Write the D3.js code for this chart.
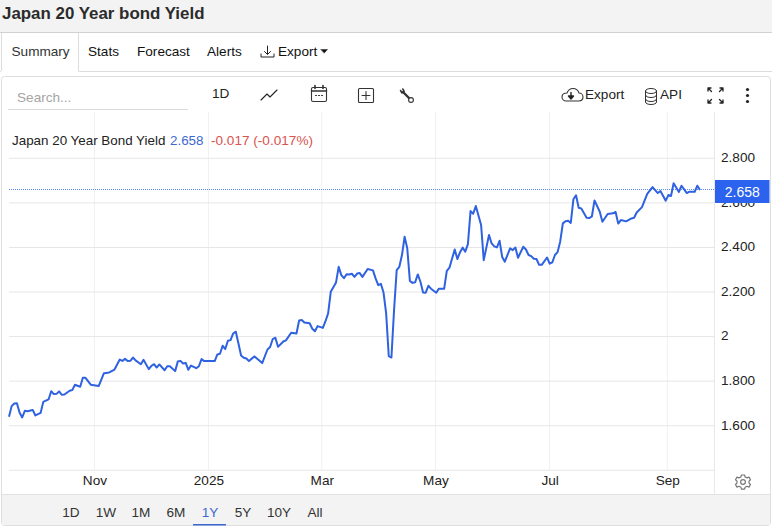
<!DOCTYPE html>
<html><head><meta charset="utf-8">
<style>html,body{margin:0;padding:0;background:#fff}svg{display:block}text{font-family:"Liberation Sans",Arial,sans-serif}</style>
<script src="https://cdn.jsdelivr.net/npm/d3@7/dist/d3.min.js"></script>
</head><body><svg id="c" width="772" height="528"></svg>
<script>
const chartTitle = "Japan 20 Year bond Yield";
const seriesName = "Japan 20 Year Bond Yield";
const lastValue = 2.658;
const changeText = "-0.017 (-0.017%)";
const tabs = ["Summary","Stats","Forecast","Alerts"];
const ranges = ["1D","1W","1M","6M","1Y","5Y","10Y","All"];
const yTicks = [2.8,2.6,2.4,2.2,2,1.8,1.6];
const xTickLabels = ["Nov","2025","Mar","May","Jul","Sep"];
const xTickSessions = [32.4,75.6,118.6,161.7,205,249.6];
const sessions = [0,1,2,3,4,5,6,7,9,10,12,13,15,16,17,18,19,20,21,23,24,25,27,28,29,31,34,36,38,40,
42,43,44,45,46,47,48,50,51,53,54,55,56,57,59,60,61,63,64,65,66,67,68,69,71,72,
73,74,78,79,80,81,82,83,84,85,86,87,88,89,90,91,93,94,96,98,99,100,101,102,104,105,107,109,110,111,112,114,
115,116,117,119,120,121,122,124,125,126,127,128,129,130,131,132,133,134,136,138,139,140,141,142,143,144,145,146,147,148,149,150,151,152,153,154,155,156,157,158,159,160,162,163,165,166,167,169,170,171,
172,173,174,175,176,177,179,180,182,183,184,185,186,187,188,190,191,192,193,195,196,197,198,199,200,201,202,204,205,206,207,208,209,210,211,212,213,214,215,216,217,219,220,221,222,224,225,227,229,230,231,232,234,236,237,238,240,242,244,246,247,249,250,251,252,254,255,257,258,260,261,262];
const yields = [1.640,1.688,1.700,1.701,1.659,1.637,1.667,1.665,1.671,1.646,1.658,1.707,1.718,1.755,1.742,1.743,1.754,1.739,1.740,1.757,1.760,1.784,1.775,1.815,1.815,1.784,1.778,1.836,1.839,1.852,
1.897,1.891,1.900,1.890,1.891,1.906,1.893,1.876,1.896,1.854,1.869,1.876,1.861,1.875,1.849,1.867,1.867,1.845,1.888,1.891,1.879,1.882,1.851,1.870,1.858,1.867,
1.899,1.890,1.890,1.920,1.923,1.959,1.944,1.981,1.984,2.014,2.022,1.969,1.915,1.905,1.902,1.890,1.911,1.902,1.881,1.942,1.953,1.989,1.995,1.954,1.978,1.983,2.017,2.014,2.072,2.074,2.063,2.060,
2.035,2.024,2.047,2.039,2.069,2.104,2.201,2.243,2.313,2.276,2.262,2.280,2.279,2.282,2.268,2.283,2.285,2.268,2.303,2.297,2.261,2.231,2.237,2.198,2.104,1.912,1.906,2.119,2.298,2.313,2.366,2.448,2.396,2.250,2.241,2.244,2.279,2.246,2.198,2.197,2.228,2.215,2.197,2.215,2.215,2.295,2.309,2.391,2.348,2.378,
2.399,2.381,2.415,2.563,2.551,2.586,2.501,2.343,2.456,2.418,2.405,2.400,2.430,2.357,2.336,2.396,2.388,2.400,2.354,2.403,2.391,2.366,2.361,2.349,2.348,2.322,2.322,2.355,2.327,2.333,2.366,2.379,2.427,2.508,2.518,2.520,2.510,2.616,2.634,2.578,2.575,2.533,2.532,2.539,2.611,2.560,2.515,2.550,2.553,2.559,2.507,2.523,2.517,2.530,2.533,2.557,2.581,2.640,2.671,2.644,2.653,2.610,2.635,2.631,2.688,2.649,2.677,2.644,2.650,2.650,2.677,2.658];

const svg = d3.select("#c");
const txt = "#222";
const x = d3.scaleLinear().domain([0,262]).range([9,700]);
const y = d3.scaleLinear().domain([1.4,2.8]).range([470.3,158.3]);
const R = (a,b,w,h,f,s)=>svg.append("rect").attr("x",a).attr("y",b).attr("width",w).attr("height",h).attr("fill",f).attr("stroke",s||"none");
const T = (a,b,t,o={})=>svg.append("text").attr("x",a).attr("y",b).text(t)
  .attr("font-size",o.size||14).attr("fill",o.fill||txt).attr("font-weight",o.weight||"normal").attr("text-anchor",o.anchor||"start");
const P = (d,o={})=>svg.append("path").attr("d",d).attr("fill",o.fill||"none").attr("stroke",o.stroke||"#222").attr("stroke-width",o.w||1.2).attr("stroke-linecap","round").attr("stroke-linejoin","round");

// header
R(0,0,772,32,"#f3f3f3");
R(0,32,772,1,"#d2d2d2");
T(2,19,chartTitle,{size:16.9,weight:"bold",fill:"#2b2b2b"});
// tabs
R(0,71,772,1,"#dcdcdc");
R(1,33,78,39,"#fff");
svg.append("path").attr("d","M1.5 71V33M78.5 33V71.5").attr("stroke","#dcdcdc").attr("fill","none");
const tabX=[11.5,88,137,207];
tabs.forEach((t,i)=>T(tabX[i],56,t,{size:13.6,fill:i==0?"#333":"#111"}));
P("M267.5 46v8M264.5 51.5l3 3 3-3M261 54v3h13v-3",{w:1});
T(278,56,"Export",{size:13.6,fill:"#111"});
P("M321 49.5h6.5l-3.2 3.5z",{fill:"#111",w:.5});

// card
svg.append("rect").attr("x",1.5).attr("y",76.5).attr("width",769).attr("height",449).attr("rx",3).attr("fill","#fff").attr("stroke","#dedede");
R(8,109,180,1,"#d9d9d9");
T(17,102,"Search...",{size:13.6,fill:"#a5a5a5"});
T(212,98,"1D",{size:13.6});
P("M261 100l6-6 3 3 7-7",{w:1.1});
// calendar
svg.append("rect").attr("x",311.5).attr("y",87.5).attr("width",15).attr("height",14).attr("rx",1.5).attr("fill","none").attr("stroke","#333").attr("stroke-width",1.1);
P("M311.5 91h15M315 85.5v3M323 85.5v3",{w:1.6,stroke:"#333"});
P("M315.5 95.5h1M318.5 95.5h1M321.5 95.5h1",{w:1.2,stroke:"#333"});
// plus box
svg.append("rect").attr("x",358.5).attr("y",88.5).attr("width",15).attr("height",14).attr("rx",1).attr("fill","none").attr("stroke","#333").attr("stroke-width",1.1);
P("M366 91.5v8M362 95.5h8",{w:1.1,stroke:"#333"});
// wrench
P("M403 92l7 7",{w:2.4,stroke:"#333"});
P("M400.5 90.5l1.5 2.5 2.2-1.6-1.4-2.4",{w:1.5,stroke:"#333"});
svg.append("circle").attr("cx",411).attr("cy",100).attr("r",2.4).attr("fill","#fff").attr("stroke","#333").attr("stroke-width",1.1);
// export cloud
P("M566 101h12.5c3 0 4.5-2 4.5-4s-1.5-4-4-4c-1-3-3-4.5-6-4.5s-5 2-6 4.5c-3 0-5 1.5-5 4s2 4 4 4z",{w:1.1,stroke:"#333"});
P("M571 92.5v5M568.5 96l2.5 3 2.5-3z",{w:1.4,stroke:"#222",fill:"#222"});
T(585,99,"Export",{size:13.6});
// api db
svg.append("ellipse").attr("cx",651).attr("cy",91).attr("rx",5.5).attr("ry",2.5).attr("fill","none").attr("stroke","#333").attr("stroke-width",1);
P("M645.5 91v11c0 1.5 2.5 2.5 5.5 2.5s5.5-1 5.5-2.5V91M645.5 95c0 1.5 2.5 2.5 5.5 2.5s5.5-1 5.5-2.5M645.5 99c0 1.5 2.5 2.5 5.5 2.5s5.5-1 5.5-2.5",{w:1,stroke:"#333"});
T(660,99,"API",{size:13.6});
// fullscreen
P("M708 88h3M708 88v3M708 88l3.5 3.5M723 88h-3M723 88v3M723 88l-3.5 3.5M708 103h3M708 103v-3M708 103l3.5-3.5M723 103h-3M723 103v-3M723 103l-3.5-3.5",{w:1.3,stroke:"#222"});
// kebab
[89.5,95.5,101.5].forEach(b=>svg.append("circle").attr("cx",747.5).attr("cy",b).attr("r",1.6).attr("fill","#222"));

// grid
const g = svg.append("g");
g.selectAll("line.v").data(xTickSessions).join("line").attr("class","v")
  .attr("x1",d=>x(d)).attr("x2",d=>x(d)).attr("y1",112).attr("y2",470).attr("stroke","#f0f0f4");
g.selectAll("line.h").data(yTicks.concat([1.4])).join("line").attr("class","h")
  .attr("x1",9).attr("x2",714).attr("y1",d=>y(d)).attr("y2",d=>y(d)).attr("stroke","#e6e6e8");
R(714,112,1,382,"#e8e8e8");

// axes labels
const fmt = d=> d===2 ? "2" : d3.format(".3f")(d);
const ya = svg.append("g").attr("transform","translate(714,-1)").call(d3.axisRight(y).tickValues(yTicks).tickFormat(fmt).tickSize(0).tickPadding(7));
ya.select(".domain").remove();
ya.selectAll("text").attr("font-size",13.6).attr("fill","#222").attr("font-family",'"Liberation Sans",Arial,sans-serif');
const xa = svg.append("g").attr("transform","translate(0,475)").call(d3.axisBottom(x).tickValues(xTickSessions).tickFormat((d,i)=>xTickLabels[i]).tickSize(0).tickPadding(0));
xa.select(".domain").remove();
xa.selectAll("text").attr("font-size",13.6).attr("fill","#222").attr("dy","0.71em").attr("font-family",'"Liberation Sans",Arial,sans-serif');

// last value line
svg.append("line").attr("x1",9).attr("x2",714).attr("y1",Math.floor(y(lastValue))+.5).attr("y2",Math.floor(y(lastValue))+.5)
  .attr("stroke","#5a8cf5").attr("stroke-width",1).attr("stroke-dasharray","1 1");

// series
const line = d3.line().x(d=>x(d[0])).y(d=>y(d[1])).curve(d3.curveLinear);
svg.append("path").datum(d3.zip(sessions,yields)).attr("d",line).attr("fill","none")
  .attr("stroke","#2f62e0").attr("stroke-width",2).attr("stroke-linejoin","round");

// last value badge
R(715,180,54.5,23,"#2b62ee");
T(742.3,196.5,lastValue.toFixed(3),{size:14,fill:"#fff",anchor:"middle"});

// legend line
T(12,145,seriesName+" ",{size:13.4,fill:"#222"});
T(170,145,lastValue.toFixed(3),{size:13.4,fill:"#3d68cf"});
T(211,145,changeText,{size:13.6,fill:"#d9534f"});

// bottom bar
R(2,494.5,768,30.5,"#f3f3f3");
R(2,494,768,1,"#e2e2e2");
const rangeX=[71,106,141,176,210,243,279,315];
ranges.forEach((r,i)=>T(rangeX[i],517,r,{size:13.6,fill:r=="1Y"?"#3d68cf":"#333",anchor:"middle"}));
R(193,524,33,1.5,"#3d68cf");
// gear
const gear = svg.append("g").attr("transform","translate(743,482)");
gear.append("circle").attr("r",2.4).attr("fill","none").attr("stroke","#777").attr("stroke-width",1.2);
gear.append("path").attr("fill","none").attr("stroke","#777").attr("stroke-width",1.2).attr("stroke-linejoin","round")
  .attr("d","M-1.6-7h3.2l.5 2 1.9.9 2-.8 1.5 2.6-1.5 1.4v2l1.5 1.4-1.5 2.6-2-.8-1.9.9-.5 2h-3.2l-.5-2-1.9-.9-2 .8-1.5-2.6 1.5-1.4v-2l-1.5-1.4 1.5-2.6 2 .8 1.9-.9z");
</script></body></html>
